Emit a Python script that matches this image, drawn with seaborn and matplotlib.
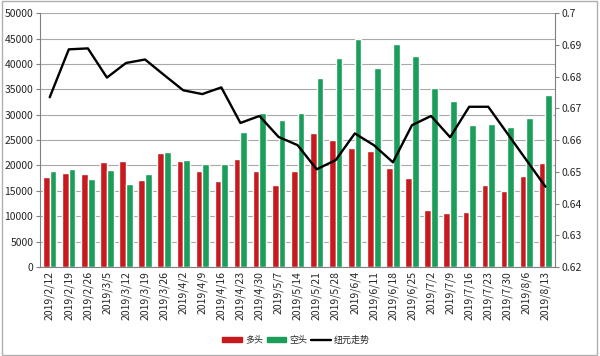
import numpy as np
import pandas as pd
import matplotlib
matplotlib.use("Agg")
import matplotlib.pyplot as plt
import seaborn as sns

# Data
dates = ['2019/2/12', '2019/2/19', '2019/2/26', '2019/3/5', '2019/3/12', '2019/3/19', '2019/3/26',
         '2019/4/2', '2019/4/9', '2019/4/16', '2019/4/23', '2019/4/30', '2019/5/7', '2019/5/14',
         '2019/5/21', '2019/5/28', '2019/6/4', '2019/6/11', '2019/6/18', '2019/6/25', '2019/7/2',
         '2019/7/9', '2019/7/16', '2019/7/23', '2019/7/30', '2019/8/6', '2019/8/13']
longs = [17800, 18600, 18300, 20700, 20800, 17200, 22400, 20800, 18900, 16900, 21200, 19000, 16200, 19000,
         26400, 25000, 23400, 22900, 19500, 17600, 11300, 10600, 10900, 16100, 15000, 18000, 20400]
shorts = [19000, 19300, 17400, 19100, 16300, 18400, 22600, 21100, 20300, 20200, 26600, 30400, 28900, 30400,
          37200, 41100, 45000, 39200, 44000, 41600, 35300, 32700, 28000, 28200, 27500, 29300, 33900]
nzd = [0.6735, 0.6886, 0.6889, 0.6797, 0.6843, 0.6854, 0.6805, 0.6757, 0.6745, 0.6766, 0.6654, 0.6676,
       0.6610, 0.6584, 0.6508, 0.6537, 0.6621, 0.6584, 0.6530, 0.6647, 0.6676, 0.6609, 0.6705, 0.6705,
       0.6621, 0.6537, 0.6453]

df = pd.DataFrame({
    'date': dates * 2,
    'value': longs + shorts,
    'side': ['多头'] * len(dates) + ['空头'] * len(dates),
})

sns.set_style("white")
plt.rcParams['font.family'] = ['Noto Sans CJK SC', 'DejaVu Sans']

fig = plt.figure(figsize=(6, 3.56), dpi=100)
ax = fig.add_axes([0.067, 0.25, 0.858, 0.713])

sns.barplot(data=df, x='date', y='value', hue='side', palette=['#c8191e', '#1a9e5a'],
            width=0.7, ax=ax, legend=False, saturation=1)
ax.set_ylim(0, 50000)
ax.set_yticks(np.arange(0, 50001, 5000))
ax.set_xlim(-0.5, len(dates) - 0.5)
ax.grid(axis='y', color='#a8a8a8', linewidth=0.8)
ax.set_axisbelow(True)
ax.set_xlabel('')
ax.set_ylabel('')
ax.tick_params(axis='y', labelsize=7.5, length=3, color='#808080', pad=2)
ax.tick_params(axis='x', labelsize=7.5, rotation=90, length=0, pad=3)
ax.set_xticks(np.arange(len(dates) + 1) - 0.5, minor=True)
ax.tick_params(axis='x', which='minor', length=3, color='#808080')
for s in ['top', 'right']:
    ax.spines[s].set_visible(False)
for s in ['left', 'bottom']:
    ax.spines[s].set_color('#808080')

ax2 = ax.twinx()
sns.lineplot(x=np.arange(len(dates)), y=nzd, color='black', linewidth=1.7, ax=ax2)
ax2.set_ylim(0.62, 0.70)
ax2.set_yticks([0.62, 0.63, 0.64, 0.65, 0.66, 0.67, 0.68, 0.69, 0.70])
ax2.set_yticklabels(['0.62', '0.63', '0.64', '0.65', '0.66', '0.67', '0.68', '0.69', '0.7'])
ax2.tick_params(axis='y', labelsize=7.5, length=3, color='#808080', pad=2)
for s in ['top', 'left', 'bottom']:
    ax2.spines[s].set_visible(False)
ax2.spines['right'].set_color('#808080')

handles = [plt.Rectangle((0, 0), 1, 1, color='#c8191e'),
           plt.Rectangle((0, 0), 1, 1, color='#1a9e5a'),
           plt.Line2D([0], [0], color='black', linewidth=1.7)]
fig.legend(handles, ['多头', '空头', '纽元走势'], loc='center', bbox_to_anchor=(0.493, 0.045),
           ncol=3, frameon=False, fontsize=6.5, handlelength=2.2, handleheight=0.55,
           columnspacing=0.4, handletextpad=0.3)

fig.patches.append(plt.Rectangle((0.003, 0.003), 0.992, 0.994, transform=fig.transFigure,
                                 fill=False, edgecolor='#b0b0b0', linewidth=1))

fig.savefig('out.png', dpi=100)
